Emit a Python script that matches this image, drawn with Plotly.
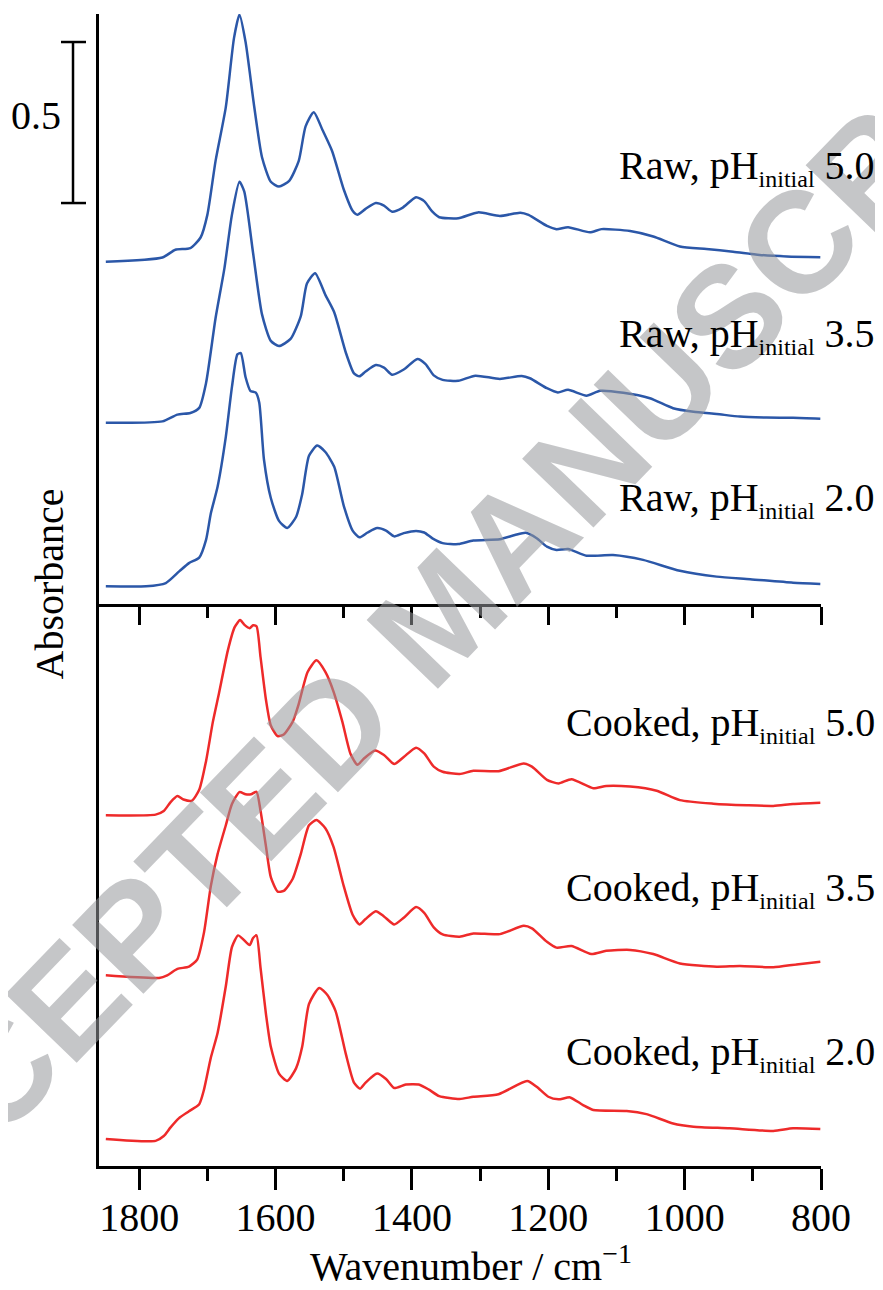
import plotly.graph_objects as go

# ---------------- data (stacked absorbance, as drawn) ----------------
wn_raw50 = [1849,1766,1747,1725,1710,1700,1688,1673,1661,1653,1644,1632,1620,1607,1595,1580,1566,1556,1544,1531,1517,1500,1487,1480,1468,1453,1441,1429,1414,1394,1382,1370,1360,1332,1303,1271,1241,1229,1202,1188,1171,1139,1122,1080,1046,1007,968,929,890,850,801]
a_raw50 = [1.063,1.076,1.100,1.105,1.138,1.209,1.376,1.543,1.757,1.830,1.745,1.555,1.388,1.311,1.296,1.314,1.376,1.483,1.527,1.471,1.406,1.287,1.221,1.209,1.227,1.245,1.237,1.218,1.230,1.263,1.251,1.218,1.201,1.198,1.216,1.205,1.215,1.208,1.174,1.164,1.170,1.154,1.164,1.158,1.141,1.110,1.102,1.094,1.084,1.079,1.077]

wn_raw35 = [1849,1766,1744,1725,1712,1702,1688,1675,1664,1653,1646,1633,1620,1607,1595,1578,1563,1554,1542,1527,1514,1497,1485,1477,1468,1453,1441,1429,1412,1392,1380,1368,1355,1332,1307,1271,1239,1227,1202,1186,1171,1144,1124,1090,1051,1017,987,953,919,880,841,801]
a_raw35 = [0.563,0.567,0.588,0.593,0.609,0.686,0.888,1.043,1.209,1.311,1.281,1.090,0.900,0.817,0.801,0.823,0.894,0.995,1.027,0.960,0.906,0.781,0.716,0.707,0.722,0.742,0.734,0.712,0.728,0.761,0.745,0.710,0.696,0.693,0.709,0.699,0.708,0.701,0.670,0.657,0.665,0.647,0.662,0.656,0.639,0.608,0.597,0.590,0.582,0.579,0.578,0.575]

wn_raw20 = [1849,1790,1761,1741,1727,1712,1702,1695,1685,1673,1664,1656,1651,1644,1637,1629,1624,1617,1607,1595,1583,1570,1561,1551,1539,1527,1514,1500,1487,1477,1465,1451,1438,1426,1412,1394,1382,1370,1355,1332,1310,1271,1249,1233,1217,1202,1188,1171,1144,1105,1061,1007,953,904,841,801]
a_raw20 = [0.055,0.055,0.065,0.102,0.127,0.144,0.199,0.281,0.365,0.519,0.674,0.775,0.779,0.704,0.662,0.656,0.626,0.448,0.329,0.258,0.236,0.270,0.341,0.460,0.492,0.472,0.426,0.305,0.228,0.207,0.222,0.236,0.228,0.210,0.220,0.227,0.222,0.204,0.189,0.186,0.197,0.201,0.214,0.221,0.204,0.178,0.168,0.171,0.150,0.152,0.137,0.103,0.085,0.077,0.066,0.062]

wn_ck50 = [1849,1776,1764,1754,1744,1735,1723,1712,1702,1692,1683,1670,1660,1652,1646,1638,1633,1628,1622,1614,1607,1597,1588,1575,1566,1553,1540,1527,1515,1502,1490,1480,1470,1454,1441,1426,1412,1394,1382,1368,1355,1330,1310,1273,1236,1224,1202,1185,1166,1134,1115,1080,1041,1007,958,909,870,841,801]
a_ck50 = [1.083,1.085,1.096,1.124,1.143,1.132,1.128,1.162,1.251,1.373,1.462,1.595,1.667,1.689,1.675,1.664,1.673,1.670,1.573,1.440,1.362,1.329,1.334,1.373,1.429,1.528,1.564,1.528,1.467,1.373,1.273,1.240,1.260,1.284,1.270,1.242,1.264,1.293,1.275,1.234,1.218,1.211,1.221,1.220,1.244,1.234,1.193,1.182,1.195,1.167,1.174,1.172,1.159,1.130,1.119,1.114,1.112,1.118,1.122]

wn_ck35 = [1849,1771,1759,1744,1727,1715,1705,1695,1685,1673,1664,1653,1644,1636,1628,1622,1614,1607,1597,1588,1575,1563,1551,1540,1527,1515,1500,1487,1477,1468,1453,1441,1426,1412,1394,1382,1368,1355,1330,1310,1271,1236,1224,1202,1188,1166,1137,1115,1080,1046,1007,953,919,870,836,801]
a_ck35 = [0.586,0.578,0.586,0.606,0.613,0.635,0.719,0.863,0.963,1.052,1.118,1.155,1.148,1.148,1.156,1.096,0.985,0.891,0.846,0.848,0.885,0.963,1.052,1.068,1.043,0.985,0.863,0.774,0.744,0.761,0.785,0.769,0.744,0.765,0.798,0.780,0.735,0.713,0.706,0.716,0.714,0.740,0.732,0.690,0.672,0.677,0.652,0.662,0.665,0.652,0.623,0.613,0.615,0.611,0.620,0.628]

wn_ck20 = [1849,1776,1764,1754,1742,1727,1712,1705,1695,1685,1673,1664,1655,1648,1638,1633,1628,1622,1614,1607,1595,1583,1570,1561,1551,1536,1524,1512,1497,1485,1476,1468,1451,1438,1426,1409,1390,1375,1360,1330,1310,1273,1231,1217,1200,1185,1168,1149,1134,1085,1056,1017,987,934,870,841,801]
a_ck20 = [0.078,0.072,0.087,0.114,0.142,0.164,0.186,0.231,0.330,0.408,0.552,0.674,0.710,0.699,0.680,0.702,0.710,0.608,0.464,0.364,0.281,0.258,0.297,0.364,0.497,0.547,0.525,0.475,0.342,0.253,0.234,0.253,0.281,0.264,0.236,0.247,0.247,0.231,0.211,0.202,0.209,0.217,0.258,0.240,0.209,0.201,0.207,0.183,0.168,0.165,0.155,0.126,0.116,0.111,0.103,0.111,0.109]

SUB = "<sub><span style='font-size:24px'>initial</span></sub>"
raw_labels = ["Raw, pH" + SUB + " 5.0", "Raw, pH" + SUB + " 3.5", "Raw, pH" + SUB + " 2.0"]
raw_label_y = [1.354, 0.835, 0.323]
ck_labels = ["Cooked, pH" + SUB + " 5.0", "Cooked, pH" + SUB + " 3.5", "Cooked, pH" + SUB + " 2.0"]
ck_label_y = [1.366, 0.854, 0.342]

x_range = [1859, 800]
tick_vals = [1800, 1600, 1400, 1200, 1000, 800]
scale_bar = [1.745, 1.245]   # 0.5 absorbance units

BLUE = "#2B57A8"
RED = "#EE2A2A"
SERIF = "Liberation Serif"

fig = go.Figure()

for wn, a in [(wn_raw50, a_raw50), (wn_raw35, a_raw35), (wn_raw20, a_raw20)]:
    fig.add_trace(go.Scatter(x=wn, y=a, mode="lines", xaxis="x2", yaxis="y2",
                             line=dict(color=BLUE, width=2.5, shape="spline", smoothing=0.6),
                             showlegend=False, hoverinfo="skip"))
for wn, a in [(wn_ck50, a_ck50), (wn_ck35, a_ck35), (wn_ck20, a_ck20)]:
    fig.add_trace(go.Scatter(x=wn, y=a, mode="lines", xaxis="x", yaxis="y",
                             line=dict(color=RED, width=2.5, shape="spline", smoothing=0.6),
                             showlegend=False, hoverinfo="skip"))

split = 562 / 1152

axis_common = dict(range=x_range, showline=True, linecolor="black", linewidth=2.5,
                   ticks="outside", tickcolor="black", tickwidth=2.5,
                   tickvals=tick_vals, showgrid=False, zeroline=False, automargin=False,
                   mirror=False)

# page body has an 8px margin, so the figure is 8px smaller and offset
fig.update_layout(
    width=875, height=1282,
    margin=dict(l=91, r=62, t=6, b=124),
    paper_bgcolor="white", plot_bgcolor="white",
    xaxis=dict(**axis_common, anchor="y", ticklen=21,
               minor=dict(dtick=100, tick0=800, ticks="outside", ticklen=12,
                          tickwidth=2.5, tickcolor="black", showgrid=False),
               tickfont=dict(family=SERIF, size=40, color="black"),
               ticklabelstandoff=-7),
    xaxis2=dict(**axis_common, anchor="y2", matches="x", ticklen=18,
                showticklabels=False,
                minor=dict(dtick=100, tick0=800, ticks="outside", ticklen=11,
                           tickwidth=2.5, tickcolor="black", showgrid=False)),
    yaxis=dict(domain=[0, split], range=[-0.006, 1.739], showline=True, linecolor="black",
               linewidth=2.5, ticks="", showticklabels=False, showgrid=False,
               zeroline=False, automargin=False),
    yaxis2=dict(domain=[split, 1], range=[0, 1.832], showline=True, linecolor="black",
                linewidth=2.5, ticks="", showticklabels=False, showgrid=False,
                zeroline=False, automargin=False),
)

annotations = []
# watermark
annotations.append(dict(text="ACCEPTED MANUSCRIPT", xref="paper", yref="paper",
                        x=0.472, y=0.478, xanchor="center", yanchor="middle",
                        textangle=-46, showarrow=False,
                        font=dict(family="Liberation Sans", size=144, color="rgba(150,152,155,0.55)",
                                  weight="bold")))
for t, yy in zip(raw_labels, raw_label_y):
    annotations.append(dict(text=t, xref="paper", yref="y2", x=1.0776, y=yy,
                            xanchor="right", yanchor="middle", showarrow=False,
                            font=dict(family=SERIF, size=40, color="black")))
for t, yy in zip(ck_labels, ck_label_y):
    annotations.append(dict(text=t, xref="paper", yref="y", x=1.0776, y=yy,
                            xanchor="right", yanchor="middle", showarrow=False,
                            font=dict(family=SERIF, size=40, color="black")))
# scale bar label
annotations.append(dict(text="0.5", xref="paper", yref="y2", x=-0.087, y=1.516,
                        xanchor="center", yanchor="middle", showarrow=False,
                        font=dict(family=SERIF, size=40, color="black")))
# axis titles
annotations.append(dict(text="Absorbance", xref="paper", yref="paper", x=-0.069, y=0.505,
                        xanchor="center", yanchor="middle", textangle=-90, showarrow=False,
                        font=dict(family=SERIF, size=40, color="black")))
annotations.append(dict(text="Wavenumber / cm<sup>\u22121</sup>", xref="paper", yref="paper",
                        x=0.515, y=-0.085, xanchor="center", yanchor="middle", showarrow=False,
                        font=dict(family=SERIF, size=40, color="black")))
fig.update_layout(annotations=annotations)

# scale bar shapes
sx, cx0, cx1 = -0.036, -0.0526, -0.018
fig.add_shape(type="line", xref="paper", yref="y2", x0=sx, x1=sx, y0=scale_bar[0], y1=scale_bar[1],
              line=dict(color="black", width=2.5))
for yy in scale_bar:
    fig.add_shape(type="line", xref="paper", yref="y2", x0=cx0, x1=cx1, y0=yy, y1=yy,
                  line=dict(color="black", width=2.5))

fig.write_html("out.html")
